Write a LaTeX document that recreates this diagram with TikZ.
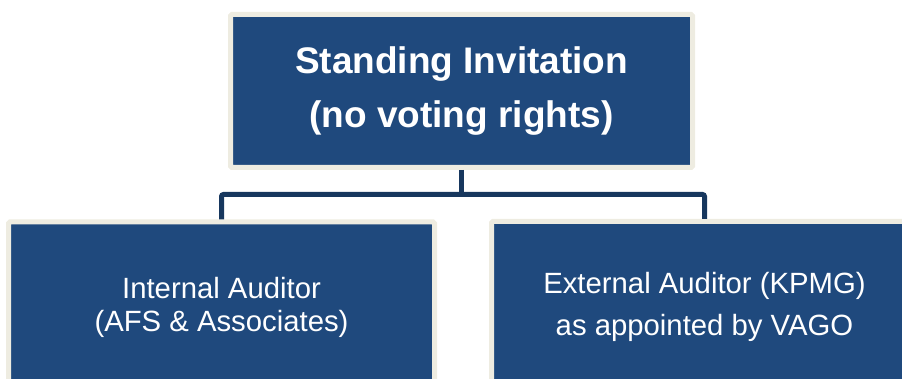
\documentclass[tikz,border=0pt]{standalone}
\usepackage{fontspec}
\setmainfont{Liberation Sans}
\usepackage{tikz}
\usetikzlibrary{positioning, calc}
\definecolor{boardblue}{HTML}{1F497D}
\definecolor{boardline}{HTML}{17375E}
\definecolor{boardframe}{HTML}{EEECE1}

\tikzset{
  rolebox/.style={draw=boardframe, fill=boardblue, line width=5pt, rounded corners=1.5pt,
    text=white, align=center, inner sep=0pt},
  link/.style={draw=boardline, line width=5pt, rounded corners=2pt}
}

\begin{document}
\begin{tikzpicture}[x=1pt, y=-1pt]
    \useasboundingbox (0,0) rectangle (902,379);
    % chair's guests on top, the two auditors below
    \node[rolebox, minimum width=462pt, minimum height=153pt,
      font=\fontsize{37}{54}\selectfont\bfseries] (invite) at (461.5,91)
      {Standing Invitation\\(no voting rights)};
    \node[rolebox, minimum width=426pt, minimum height=170pt,
      font=\fontsize{29.3}{33}\selectfont] (internal) at (221.5,307)
      {Internal Auditor\\(AFS \& Associates)};
    \node[rolebox, minimum width=426pt, minimum height=170pt,
      font=\fontsize{29.3}{42}\selectfont] (external) at (704.5,306.5)
      {External Auditor (KPMG)\\as appointed by VAGO};
    \coordinate (bus) at (461.5,194.5);
    \draw[link] (invite.south) -- (bus);
    \draw[link] (internal.north) |- (bus) -| (external.north);
  \end{tikzpicture}
\end{document}
